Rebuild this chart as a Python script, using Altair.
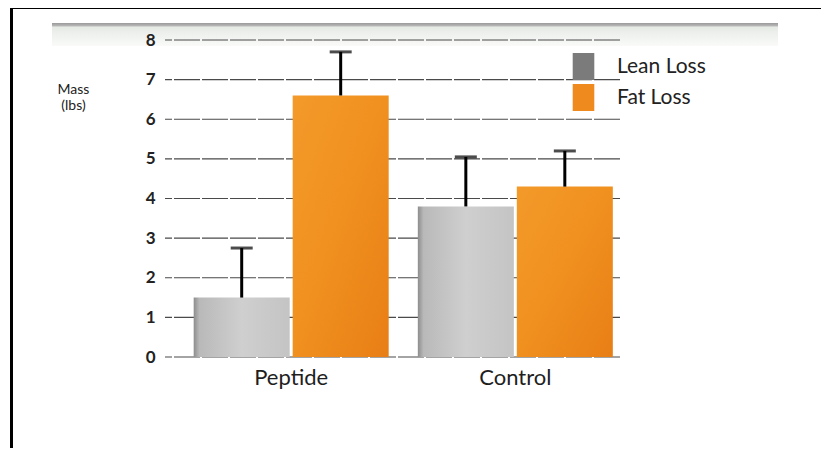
import altair as alt
import pandas as pd

groups = ["Peptide", "Control"]
series_names = ["Lean Loss", "Fat Loss"]
lean_values = [1.5, 3.8]
fat_values = [6.6, 4.3]
lean_err_top = [2.75, 5.05]
fat_err_top = [7.7, 5.2]
y_ticks = [0, 1, 2, 3, 4, 5, 6, 7, 8]

rows = []
for i, g in enumerate(groups):
    rows.append({"group": g, "series": series_names[0], "value": lean_values[i], "err": lean_err_top[i]})
    rows.append({"group": g, "series": series_names[1], "value": fat_values[i], "err": fat_err_top[i]})
df = pd.DataFrame(rows)
grid_df = pd.DataFrame({"tick": y_ticks})

FONT = "Lato"

gray_grad = {
    "gradient": "linear", "x1": 0, "y1": 0, "x2": 1, "y2": 0,
    "stops": [
        {"offset": 0, "color": "#8d8d8d"},
        {"offset": 0.06, "color": "#b9b9b9"},
        {"offset": 0.5, "color": "#cfcfcf"},
        {"offset": 1, "color": "#c4c4c4"},
    ],
}
orange_grad = {
    "gradient": "linear", "x1": 0, "y1": 0, "x2": 1, "y2": 1,
    "stops": [
        {"offset": 0, "color": "#f39a2a"},
        {"offset": 0.5, "color": "#f0901f"},
        {"offset": 1, "color": "#e87e16"},
    ],
}
band_grad = {
    "gradient": "linear", "x1": 0, "y1": 0, "x2": 0, "y2": 1,
    "stops": [
        {"offset": 0, "color": "#9a9a9a"},
        {"offset": 0.13, "color": "#b8b8b8"},
        {"offset": 0.17, "color": "#e6eae5"},
        {"offset": 1, "color": "#fafbf9"},
    ],
}

x_enc = alt.X(
    "group:N",
    sort=groups,
    scale=alt.Scale(domain=groups, paddingInner=0.13, paddingOuter=0.08, align=0.8),
    axis=alt.Axis(
        title=None, labelAngle=0, labelFontSize=22, labelFont=FONT, labelColor="#1e1e1e",
        labelPadding=10, ticks=False, domain=False,
    ),
)
xoff = alt.XOffset("series:N", sort=series_names, scale=alt.Scale(domain=series_names, paddingInner=0.03))
y_scale = alt.Scale(domain=[0, 8], nice=False, zero=True)

label_axis = alt.Axis(
    orient="left", values=y_ticks, labelOverlap=False, zindex=2,
    title=["Mass", "(lbs)"], titleAngle=0, titleX=-92, titleY=42,
    titleAlign="center", titleBaseline="top", titleFontSize=14, titleFontWeight="normal",
    titleFont=FONT, titleColor="#222", titleLineHeight=16,
    labelFontSize=17, labelFontWeight="bold", labelFont=FONT, labelColor="#222",
    labelPadding=10, ticks=False, domain=False, grid=False,
)

base = alt.Chart(df)
one = "datum.group == 'Peptide' && datum.series == 'Lean Loss'"

frame = base.mark_rect(fill="transparent", stroke="black", strokeWidth=3).encode(
    x=alt.value(-153.5), x2=alt.value(900), y=alt.value(-32.5), y2=alt.value(600)
).transform_filter(one)

band = base.mark_rect(fill=band_grad).encode(
    x=alt.value(-113), x2=alt.value(613), y=alt.value(-17), y2=alt.value(6)
).transform_filter(one)

grid_layer = alt.Chart(grid_df).mark_rule(color="#4a4a4a", strokeWidth=1.2, strokeDash=[26, 2]).encode(
    y=alt.Y("tick:Q", scale=y_scale, axis=None),
)

bars = base.mark_bar().encode(
    x=x_enc,
    xOffset=xoff,
    y=alt.Y("value:Q", scale=y_scale, axis=label_axis),
    fill=alt.condition("datum.series == 'Lean Loss'", alt.value(gray_grad), alt.value(orange_grad)),
)

legend_layer = base.mark_bar().encode(
    x=x_enc,
    xOffset=xoff,
    y=alt.Y("value:Q", scale=y_scale, axis=None),
    color=alt.Color(
        "series:N", sort=series_names,
        scale=alt.Scale(domain=series_names, range=["#7b7b7b", "#ef8a1f"]),
        legend=alt.Legend(
            title=None, orient="none", legendX=405, legendY=13,
            symbolType="M-0.8,-1L0.8,-1L0.8,1L-0.8,1Z", symbolSize=729, symbolStrokeWidth=0,
            symbolOpacity=1,
            labelFontSize=21, labelFont=FONT, labelColor="#222", labelOffset=20,
            rowPadding=4,
        ),
    ),
).transform_filter("false")

err_rule = base.mark_rule(color="black", strokeWidth=3).encode(
    x=x_enc, xOffset=xoff, y=alt.Y("value:Q", scale=y_scale, axis=None), y2="err:Q"
)
err_cap = base.mark_tick(color="black", thickness=3, size=22).encode(
    x=x_enc, xOffset=xoff, y=alt.Y("err:Q", scale=y_scale, axis=None)
)

chart = alt.layer(frame, band, grid_layer, legend_layer, bars, err_rule, err_cap).resolve_axis(
    y="independent"
).properties(
    width=455, height=317,
    background="white",
    autosize=alt.AutoSizeParams(type="none"),
    padding={"left": 157, "top": 32, "right": 201, "bottom": 91},
).configure_view(stroke=None)

chart.save("out.html", embed_options={"renderer": "svg", "actions": False})
